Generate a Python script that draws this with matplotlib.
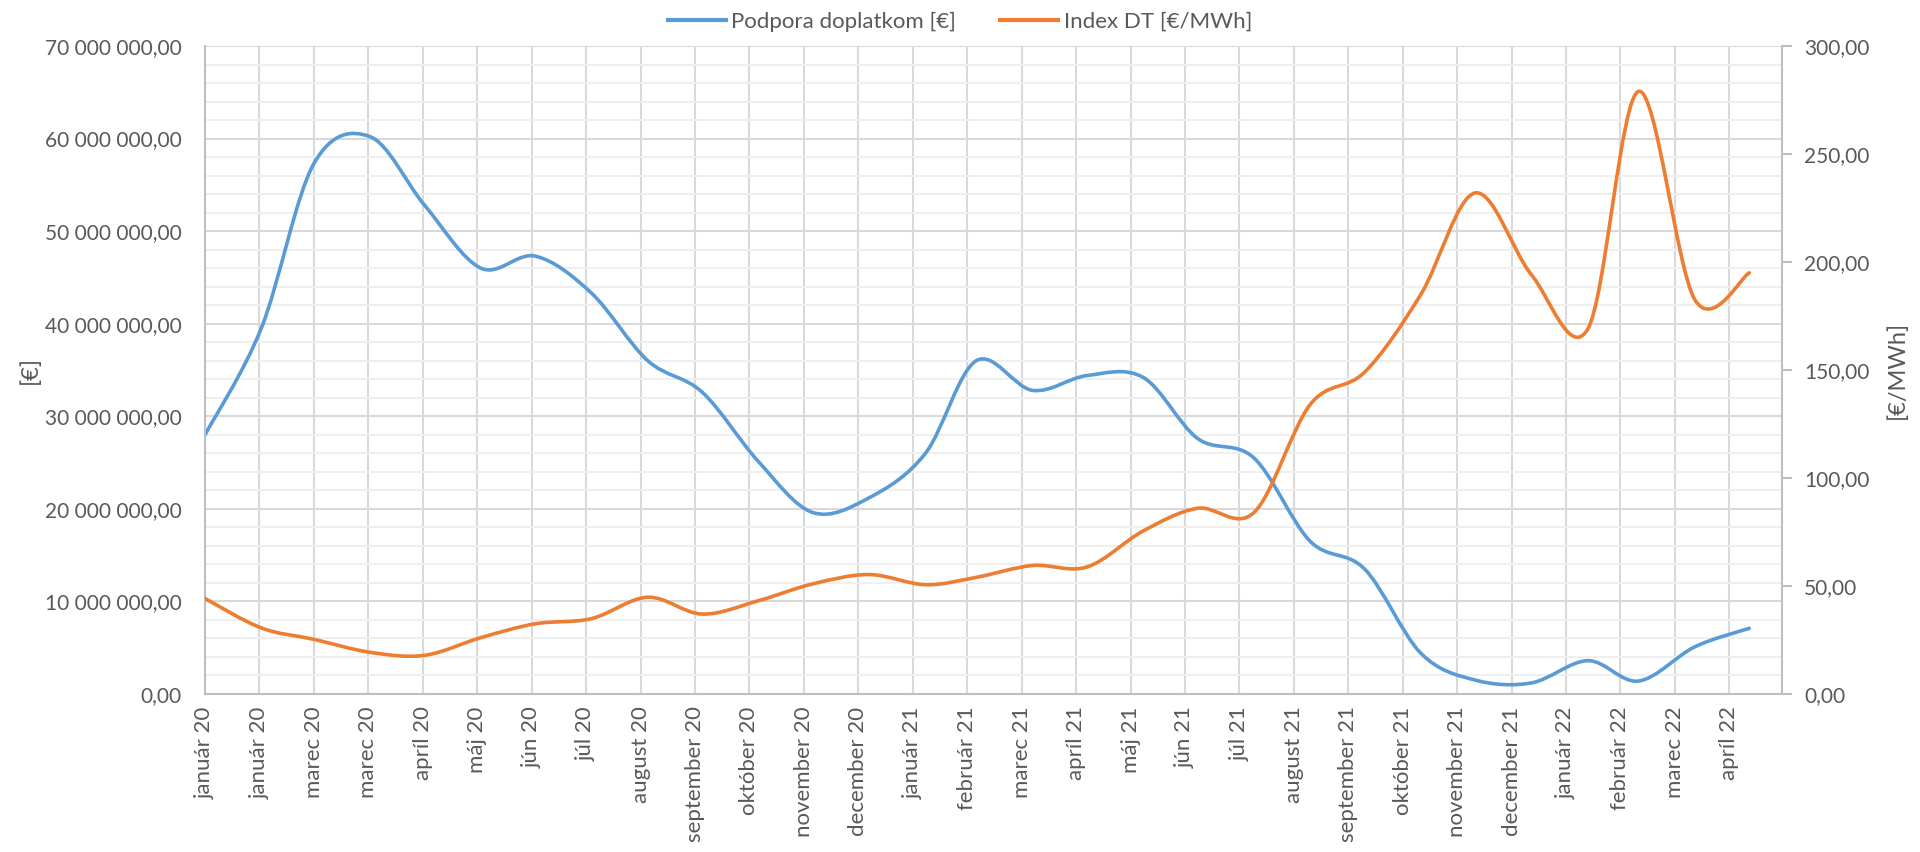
import numpy as np
import pandas as pd
import matplotlib
matplotlib.use("Agg")
import matplotlib.pyplot as plt
from matplotlib.path import Path
from matplotlib.patches import PathPatch
from matplotlib.lines import Line2D
from matplotlib.ticker import FuncFormatter, MultipleLocator

# monthly values, 1.1.2020 - 1.5.2022
months = pd.date_range("2020-01-01", "2022-05-01", freq="MS")
podpora = [28.0, 39.5, 57.3, 60.2, 52.8, 46.0, 47.3, 43.3, 36.0, 32.6, 25.1, 19.6,
           21.2, 26.0, 36.0, 32.8, 34.4, 34.2, 27.6, 25.5, 16.5, 13.5, 4.4, 1.5,
           1.2, 3.6, 1.4, 5.1, 7.1]  # mil. EUR
index_dt = [44.2, 30.6, 25.3, 19.3, 17.9, 26.1, 32.5, 34.9, 44.8, 37.0, 43.2, 51.0,
            55.3, 50.6, 54.0, 59.5, 58.8, 75.5, 86.0, 84.0, 134.0, 149.0, 185.0, 232.0,
            194.0, 169.0, 279.0, 182.5, 195.0]  # EUR/MWh
# axis labels, one every 30 days starting 1.1.2020
tick_labels = ["január 20", "január 20", "marec 20", "marec 20", "apríl 20", "máj 20",
               "jún 20", "júl 20", "august 20", "september 20", "október 20",
               "november 20", "december 20", "január 21", "február 21", "marec 21",
               "apríl 21", "máj 21", "jún 21", "júl 21", "august 21", "september 21",
               "október 21", "november 21", "december 21", "január 22", "február 22",
               "marec 22", "apríl 22"]

BLUE = "#5B9BD5"
ORANGE = "#ED7D31"
TXT = "#595959"
GRID = "#d9d9d9"
MINOR = "#efefef"
AXIS = "#bfbfbf"

plt.rcParams["font.family"] = ["Lato", "DejaVu Sans"]
plt.rcParams["font.size"] = 15


def smooth_path(x, y):
    """Excel-like smoothed line as cubic Bezier segments through the data points."""
    pts = np.column_stack([x, y])
    n = len(pts)
    verts = [pts[0]]
    codes = [Path.MOVETO]
    for i in range(n - 1):
        p0 = pts[max(i - 1, 0)]
        p1 = pts[i]
        p2 = pts[i + 1]
        p3 = pts[min(i + 2, n - 1)]
        verts += [p1 + (p2 - p0) / 6, p2 - (p3 - p1) / 6, p2]
        codes += [Path.CURVE4] * 3
    return Path(verts, codes)


x = np.asarray((months - months[0]).days, dtype=float)
tick_pos = np.arange(len(tick_labels)) * 30

fig = plt.figure(figsize=(19.2, 8.52), dpi=100)
ax = fig.add_axes([205 / 1920, 1 - 694 / 852, (1782 - 205) / 1920, (694 - 46) / 852])
ax2 = ax.twinx()

ax.set_xlim(0, 869)
ax.set_ylim(0, 70e6)
ax2.set_ylim(0, 300)

ax.yaxis.set_major_locator(MultipleLocator(10e6))
ax.yaxis.set_minor_locator(MultipleLocator(2e6))
ax2.yaxis.set_major_locator(MultipleLocator(50))
ax.set_xticks(tick_pos)
ax.set_xticklabels(tick_labels, rotation=90)

ax.grid(True, which="minor", axis="y", color=MINOR, lw=1.4)
ax.grid(True, which="major", axis="both", color=GRID, lw=1.5)
ax.set_axisbelow(True)

fmt_left = FuncFormatter(lambda v, p: f"{v:,.2f}".replace(",", " ").replace(".", ","))
fmt_right = FuncFormatter(lambda v, p: f"{v:.2f}".replace(".", ","))
ax.yaxis.set_major_formatter(fmt_left)
ax2.yaxis.set_major_formatter(fmt_right)

ax.tick_params(axis="y", which="both", length=0, pad=17, colors=TXT, labelsize=15)
ax.tick_params(axis="x", length=0, pad=9, colors=TXT, labelsize=16)
ax2.tick_params(axis="y", length=7, width=1.5, pad=9, colors=TXT, labelsize=15)
ax2.tick_params(axis="y", color=AXIS)

for a in (ax, ax2):
    for side in ("top", "right", "left", "bottom"):
        a.spines[side].set_visible(False)
ax.spines["left"].set_visible(True)
ax.spines["bottom"].set_visible(True)
ax2.spines["right"].set_visible(True)
for s in (ax.spines["left"], ax.spines["bottom"], ax2.spines["right"]):
    s.set_color(AXIS)
    s.set_linewidth(1.5)

ax.add_patch(PathPatch(smooth_path(x, np.asarray(podpora) * 1e6), fill=False,
                       edgecolor=BLUE, lw=2.6, capstyle="round", joinstyle="round"))
ax2.add_patch(PathPatch(smooth_path(x, index_dt), fill=False,
                        edgecolor=ORANGE, lw=2.6, capstyle="round", joinstyle="round"))

ax.set_ylabel("[€]", color=TXT, fontsize=17)
ax.yaxis.set_label_coords(-0.104, 0.5)
ax2.set_ylabel("[€/MWh]", color=TXT, fontsize=17, rotation=90)
ax2.yaxis.set_label_coords(1.066, 0.5)

handles = [Line2D([], [], color=BLUE, lw=3), Line2D([], [], color=ORANGE, lw=3)]
leg = fig.legend(handles, ["Podpora doplatkom [€]", "Index DT [€/MWh]"], loc="center",
                 bbox_to_anchor=(0.5, 1 - 22 / 852), ncol=2, frameon=False,
                 fontsize=16, handlelength=2.6, handletextpad=0.25, columnspacing=2.0)
for t in leg.get_texts():
    t.set_color(TXT)

fig.savefig("out.png", dpi=100, facecolor="white")
